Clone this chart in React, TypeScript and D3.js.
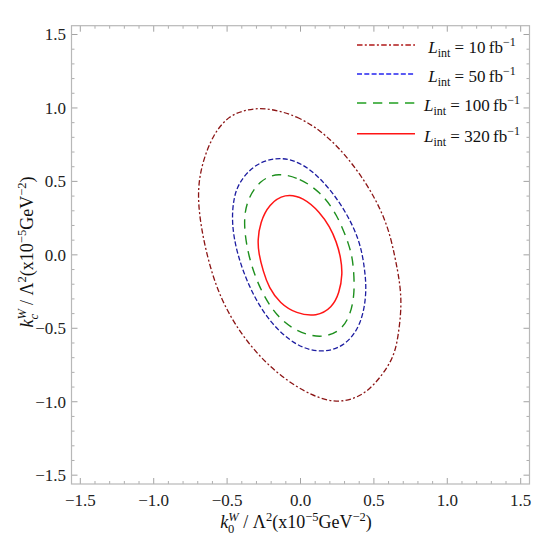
import React from 'react';
import * as d3 from 'd3';

// contour points: [k0, kc]
const contour10 = [
  [-0.253, 1.005], [-0.026, 0.953], [0.201, 0.805], [0.428, 0.532], [0.587, 0.237],
  [0.644, -0.013], [0.678, -0.194], [0.689, -0.353], [0.666, -0.557], [0.632, -0.716],
  [0.496, -0.898], [0.383, -0.977], [0.247, -1.007], [0.087, -0.966], [-0.140, -0.830],
  [-0.366, -0.603], [-0.548, -0.308], [-0.651, 0.033], [-0.707, 0.374], [-0.680, 0.601],
  [-0.594, 0.828], [-0.480, 0.953], [-0.366, 0.987],
];
const contour50 = [
  [-0.174, 0.665], [-0.026, 0.646], [0.133, 0.532], [0.292, 0.328], [0.405, 0.101],
  [0.439, -0.103], [0.451, -0.262], [0.417, -0.466], [0.315, -0.614], [0.155, -0.671],
  [-0.026, -0.626], [-0.208, -0.466], [-0.344, -0.239], [-0.435, 0.011], [-0.469, 0.215],
  [-0.458, 0.374], [-0.424, 0.487], [-0.321, 0.612],
];
const contour100 = [
  [-0.151, 0.560], [-0.003, 0.521], [0.133, 0.430], [0.247, 0.283], [0.337, 0.056],
  [0.360, -0.058], [0.371, -0.262], [0.337, -0.421], [0.269, -0.523], [0.133, -0.569],
  [-0.026, -0.523], [-0.162, -0.421], [-0.276, -0.239], [-0.356, -0.013], [-0.390, 0.215],
  [-0.366, 0.374], [-0.276, 0.510],
];
const contour320 = [
  [-0.106, 0.418], [0.019, 0.392], [0.133, 0.290], [0.200, 0.190], [0.245, 0.090],
  [0.275, -0.020], [0.287, -0.130], [0.265, -0.260], [0.215, -0.360], [0.110, -0.421],
  [-0.030, -0.400], [-0.140, -0.330], [-0.215, -0.225], [-0.255, -0.110], [-0.285, 0.010],
  [-0.292, 0.100], [-0.275, 0.220], [-0.215, 0.345],
];

const luminosities = ['10', '50', '100', '320'];
const majorTicks = [-1.5, -1.0, -0.5, 0.0, 0.5, 1.0, 1.5];

const series = [
  { lumi: luminosities[0], pts: contour10, color: '#8b1414', legendColor: '#b01818', dash: '5.5,2.3,2,2.3', width: 1.3 },
  { lumi: luminosities[1], pts: contour50, color: '#1c1ca0', legendColor: '#2424f0', dash: '5,2.3', width: 1.3 },
  { lumi: luminosities[2], pts: contour100, color: '#1d8f1d', legendColor: '#22a022', dash: '9.3,6.7', width: 1.4 },
  { lumi: luminosities[3], pts: contour320, color: '#ff1515', legendColor: '#ff1515', dash: null, width: 1.5 },
];

const W = 557;
const H = 541;
const left = 71.5, right = 529.5, top = 25.7, bottom = 484;

const fmt = (v: number) => (v < 0 ? '\u2212' : '') + Math.abs(v).toFixed(1);

const serif = { fontFamily: "'Liberation Serif', 'Times New Roman', Times, serif" };

export default function App() {
  const x = d3.scaleLinear().domain([-1.56, 1.56]).range([left, right]);
  const y = d3.scaleLinear().domain([-1.56, 1.56]).range([bottom, top]);

  // smooth closed spline through the read contour points
  const line = d3.line<number[]>()
    .x(d => x(d[0]))
    .y(d => y(d[1]))
    .curve(d3.curveBasisClosed);

  const minorTicks = d3.range(-15, 16).map(i => i / 10).filter(v => Math.abs(v * 2 - Math.round(v * 2)) > 1e-6);
  const tickColor = '#999';

  const legendRows = [45, 74, 103, 133.7];

  return (
    <svg width={W} height={H} style={{ position: 'absolute', left: 0, top: 0, background: '#fff', ...serif }}>
      {/* ticks */}
      {minorTicks.map(v => (
        <g key={'m' + v} stroke={tickColor} strokeWidth={0.8}>
          <line x1={x(v)} x2={x(v)} y1={bottom} y2={bottom - 3} />
          <line x1={x(v)} x2={x(v)} y1={top} y2={top + 3} />
          <line x1={left} x2={left + 3} y1={y(v)} y2={y(v)} />
          <line x1={right} x2={right - 3} y1={y(v)} y2={y(v)} />
        </g>
      ))}
      {majorTicks.map(v => (
        <g key={'M' + v} stroke={tickColor} strokeWidth={0.9}>
          <line x1={x(v)} x2={x(v)} y1={bottom} y2={bottom - 6} />
          <line x1={x(v)} x2={x(v)} y1={top} y2={top + 6} />
          <line x1={left} x2={left + 6} y1={y(v)} y2={y(v)} />
          <line x1={right} x2={right - 6} y1={y(v)} y2={y(v)} />
        </g>
      ))}
      <rect x={left} y={top} width={right - left} height={bottom - top} fill="none" stroke="#b8b8b8" strokeWidth={1.2} />

      {/* tick labels */}
      {majorTicks.map(v => (
        <text key={'xl' + v} x={x(v)} y={506} textAnchor="middle" fontSize={17} fill="#222" style={serif}>{fmt(v)}</text>
      ))}
      {majorTicks.map(v => (
        <text key={'yl' + v} x={66} y={y(v)} dy="0.35em" textAnchor="end" fontSize={17} fill="#222" style={serif}>{fmt(v)}</text>
      ))}

      {/* contours */}
      {series.map(s => (
        <path key={'c' + s.lumi} d={line(s.pts) || ''} fill="none" stroke={s.color}
          strokeWidth={s.width} strokeDasharray={s.dash || undefined} />
      ))}

      {/* legend */}
      {series.map((s, i) => (
        <g key={'lg' + s.lumi}>
          <line x1={357} x2={415} y1={legendRows[i]} y2={legendRows[i]} stroke={s.legendColor}
            strokeWidth={s.width} strokeDasharray={s.dash || undefined} />
          <text x={472} y={legendRows[i] + 8.3} textAnchor="middle" fontSize={17} fill="#111" style={serif}>
            <tspan fontStyle="italic">L</tspan>
            <tspan fontSize={12} dy={4}>int</tspan>
            <tspan dy={-4}>{` = ${s.lumi}\u2009fb`}</tspan>
            <tspan fontSize={12} dy={-7}>{'\u22121'}</tspan>
          </text>
        </g>
      ))}

      {/* axis titles */}
      <text x={296} y={528} textAnchor="middle" fontSize={18} fill="#111" style={serif}>
        <tspan fontStyle="italic">k</tspan>
        <tspan fontStyle="italic" fontSize={12.5} dy={-7.5}>W</tspan>
        <tspan fontSize={12.5} dx={-10.5} dy={12}>0</tspan>
        <tspan dx={4.5} dy={-4.5}>{' / \u039b'}</tspan>
        <tspan fontSize={12.5} dy={-7.5}>2</tspan>
        <tspan dy={7.5}>(x10</tspan>
        <tspan fontSize={12.5} dy={-7.5}>{'\u22125'}</tspan>
        <tspan dy={7.5}>GeV</tspan>
        <tspan fontSize={12.5} dy={-7.5}>{'\u22122'}</tspan>
        <tspan dy={7.5}>)</tspan>
      </text>
      <text transform="translate(33,252) rotate(-90)" x={0} y={0} textAnchor="middle" fontSize={18} fill="#111" style={serif}>
        <tspan fontStyle="italic">k</tspan>
        <tspan fontStyle="italic" fontSize={12.5} dy={-7.5}>W</tspan>
        <tspan fontStyle="italic" fontSize={12.5} dx={-10.5} dy={12}>c</tspan>
        <tspan dx={4.5} dy={-4.5}>{' / \u039b'}</tspan>
        <tspan fontSize={12.5} dy={-7.5}>2</tspan>
        <tspan dy={7.5}>(x10</tspan>
        <tspan fontSize={12.5} dy={-7.5}>{'\u22125'}</tspan>
        <tspan dy={7.5}>GeV</tspan>
        <tspan fontSize={12.5} dy={-7.5}>{'\u22122'}</tspan>
        <tspan dy={7.5}>)</tspan>
      </text>
    </svg>
  );
}
